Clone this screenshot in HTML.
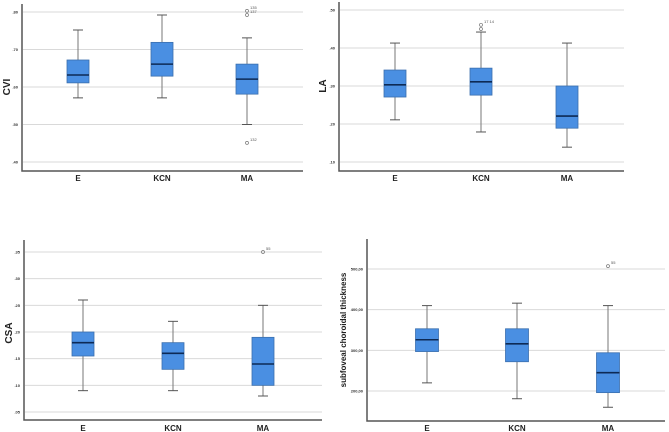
<!DOCTYPE html>
<html><head><meta charset="utf-8"><style>
html,body{margin:0;padding:0;background:#fff;width:669px;height:432px;overflow:hidden}
svg{display:block;font-family:"Liberation Sans",sans-serif}
</style></head><body>
<svg id="chart" width="669" height="432"></svg>
<script>
const categories = ["E","KCN","MA"];
// [low whisker, Q1, median, Q3, high whisker]
const cviStats = [[0.571,0.611,0.632,0.672,0.752],[0.571,0.629,0.661,0.719,0.792],[0.50,0.581,0.621,0.661,0.731]];
const cviOutliers = [[2,0.803,"135"],[2,0.792,"137"],[2,0.451,"132"]];
const cviTicks = [0.40,0.50,0.60,0.70,0.80];
const cviTickLabels = [".40",".50",".60",".70",".80"];
const laStats = [[0.211,0.271,0.303,0.342,0.413],[0.179,0.276,0.311,0.347,0.442],[0.139,0.189,0.221,0.30,0.413]];
const laOutliers = [[1,0.461,"17 14"],[1,0.45,""]];
const laTicks = [0.10,0.20,0.30,0.40,0.50];
const laTickLabels = [".10",".20",".30",".40",".50"];
const csaStats = [[0.09,0.155,0.18,0.20,0.26],[0.09,0.13,0.16,0.18,0.22],[0.08,0.10,0.14,0.19,0.25]];
const csaOutliers = [[2,0.35,"55"]];
const csaTicks = [0.05,0.10,0.15,0.20,0.25,0.30,0.35];
const csaTickLabels = [".05",".10",".15",".20",".25",".30",".35"];
const sctStats = [[220,297,326,353,410],[181,272,316,353,416],[160,196,245,294,410]];
const sctOutliers = [[2,507,"55"]];
const sctTicks = [200,300,400,500];
const sctTickLabels = ["200,00","300,00","400,00","500,00"];

const svg = document.getElementById('chart');
const NS = "http://www.w3.org/2000/svg";
function mk(tag, attrs, parent){const e=document.createElementNS(NS,tag);for(const k in attrs)e.setAttribute(k,attrs[k]);(parent||svg).appendChild(e);return e;}

function panel(p){
  const g = mk('g',{});
  
  
  const y = v => p.y0 - (v - p.t0) / (p.t1 - p.t0) * (p.y0 - p.y1);
  const x = i => p.cx[i];
  p.ticks.forEach((t,i)=>{
    const gl = mk('line',{x1:p.ax+1,x2:p.right,y1:y(t),y2:y(t),stroke:'#d9d9d9','stroke-width':1},g);
    
    
    const tl = mk('text',{x:p.ax-4,y:y(t)+1.5,'font-size':4,'text-anchor':'end',fill:'#333','font-weight':'bold'},g);
    tl.textContent = p.tickLabels[i];
    
    
  });
  const ax = mk('path',{d:`M${p.ax},${p.top} V${p.bottom} H${p.right}`,stroke:'#555','stroke-width':1.5,fill:'none'},g);
  
  
  p.stats.forEach((s,i)=>{
    const bg = mk('g',{},g);
    
    
    const w = p.bw, cx = x(i);
    mk('line',{x1:cx,x2:cx,y1:y(s[0]),y2:y(s[4]),stroke:'#777','stroke-width':1},bg);
    mk('line',{x1:cx-5,x2:cx+5,y1:y(s[0]),y2:y(s[0]),stroke:'#555','stroke-width':1},bg);
    mk('line',{x1:cx-5,x2:cx+5,y1:y(s[4]),y2:y(s[4]),stroke:'#555','stroke-width':1},bg);
    mk('rect',{x:cx-w/2,y:y(s[3]),width:w,height:y(s[1])-y(s[3]),fill:'#4a8fe2',stroke:'#3b6fae','stroke-width':0.8},bg);
    mk('line',{x1:cx-w/2,x2:cx+w/2,y1:y(s[2]),y2:y(s[2]),stroke:'#0d2a55','stroke-width':1.6},bg);
    const cl = mk('text',{x:cx,y:p.catY,'font-size':8,'font-weight':'bold','text-anchor':'middle',fill:'#222'},g);
    cl.textContent = categories[i];
    
    
  });
  p.outliers.forEach(o=>{
    const c = mk('circle',{cx:x(o[0]),cy:y(o[1]),r:1.5,fill:'none',stroke:'#777','stroke-width':0.7},g);
    
    
    if(o[2]){
      const t = mk('text',{x:x(o[0])+3,y:y(o[1])-2,'font-size':4,fill:'#555'},g);
      t.textContent = o[2];
    }
  });
  const yl = mk('text',{x:p.lx,y:p.ly,'font-size':p.lfs,'font-weight':'bold','text-anchor':'middle',fill:'#222',transform:`rotate(-90 ${p.lx} ${p.ly})`},g);
  yl.textContent = p.label;
  
  
}

panel({name:'cvi-panel',stats:cviStats,outliers:cviOutliers,ticks:cviTicks,tickLabels:cviTickLabels,t0:0.40,t1:0.80,y0:162,y1:12,ax:22,top:4,bottom:171,right:303,cx:[78,162,247],bw:22,catY:181,label:'CVI',lx:10,ly:87,lfs:10});
panel({name:'la-panel',stats:laStats,outliers:laOutliers,ticks:laTicks,tickLabels:laTickLabels,t0:0.10,t1:0.50,y0:162,y1:10,ax:339,top:2,bottom:171,right:624,cx:[395,481,567],bw:22,catY:181,label:'LA',lx:326,ly:86,lfs:10});
panel({name:'csa-panel',stats:csaStats,outliers:csaOutliers,ticks:csaTicks,tickLabels:csaTickLabels,t0:0.05,t1:0.35,y0:412,y1:252,ax:24,top:240,bottom:420,right:322,cx:[83,173,263],bw:22,catY:431,label:'CSA',lx:12,ly:333,lfs:10});
panel({name:'choroidal-thickness-panel',stats:sctStats,outliers:sctOutliers,ticks:sctTicks,tickLabels:sctTickLabels,t0:200,t1:500,y0:391,y1:269,ax:367,top:239,bottom:421,right:665,cx:[427,517,608],bw:23,catY:431,label:'subfoveal choroidal thickness',lx:346,ly:330,lfs:8});
</script>
</body></html>
